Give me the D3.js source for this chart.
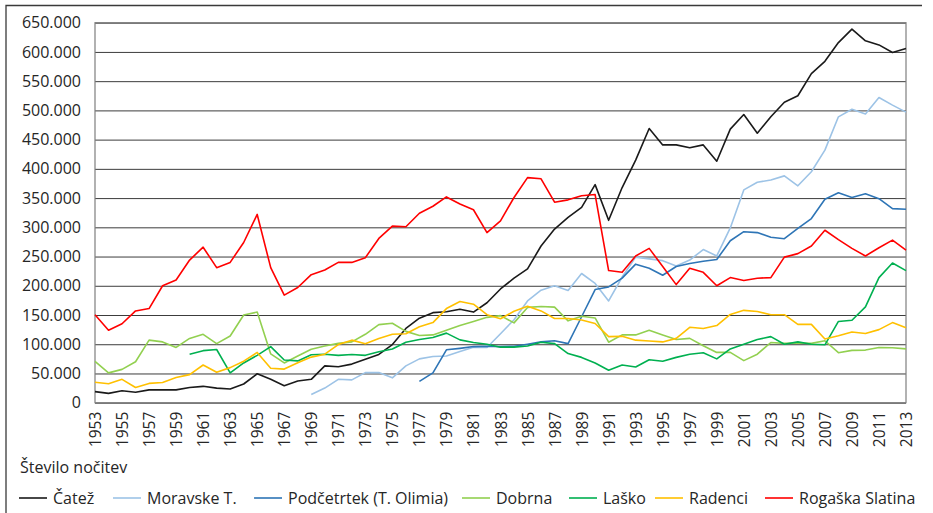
<!DOCTYPE html>
<html>
<head>
<meta charset="utf-8">
<script src="https://cdn.jsdelivr.net/npm/d3@7"></script>
<style>
  body { margin: 0; background: #fff; }
  svg text { font-family: "Open Sans", sans-serif; fill: #262626; }
</style>
</head>
<body>
<div id="chart"></div>
<script>
// nights per resort, in thousands (null = no data yet)
var years = d3.range(1953, 2014);
var tickYears = years.filter(function (y) { return y % 2 === 1; });
var yTicks = d3.range(0, 650001, 50000);
var UNIT = 1000;

var catez = [19, 16, 20.5, 18, 22, 22, 22, 26, 28, 25, 23.5, 32, 49.5, 40, 29, 37, 40, 63, 61.5, 66, 74.5, 82.5, 99.5, 127, 144.5, 154, 155.5, 160, 155, 171, 194.5, 213, 229, 268, 297, 317, 334, 373, 312, 368, 415, 469, 441, 441, 436, 441, 413, 468, 493, 461, 489, 514, 525, 563, 584, 616, 639, 619, 612, 599, 606];
var moravske = [null, null, null, null, null, null, null, null, null, null, null, null, null, null, null, null, 14, 25, 40, 39, 51.5, 51.5, 42.5, 63, 75, 79, 80, 87.5, 95, 94.5, 118, 142, 174, 192.5, 200, 192, 221, 204, 174, 215, 249, 246, 243, 234, 244, 262, 251, 299, 364, 377, 381, 388, 371, 395, 432, 489, 502, 494, 522, 509, 497];
var podcetrtek = [null, null, null, null, null, null, null, null, null, null, null, null, null, null, null, null, null, null, null, null, null, null, null, null, 36.5, 51, 90.5, 93, 96, 96.5, 96, 96.5, 100, 104, 106, 101, 147, 193.5, 198, 213, 237, 230, 218, 233, 238, 242, 245, 277, 292.5, 291, 283, 280.5, 298, 315, 348, 359, 351, 357.5, 349, 332, 331];
var dobrna = [70.5, 51, 57, 70, 107, 104, 94.5, 110, 117, 101, 114, 150, 155, 83.5, 68, 80, 91.5, 97, 101.5, 104, 117, 133.5, 136, 122, 115, 116, 124, 132, 139, 146, 149, 136.5, 163, 164.5, 163.5, 140, 148, 145, 103.5, 116, 116, 124, 116, 108, 110, 97.5, 86, 86, 72, 83, 103, 101.5, 102, 101.5, 106, 85.5, 89.5, 90, 94.5, 94, 92];
var lasko = [null, null, null, null, null, null, null, 83, 89, 91, 51, 68, 81, 96, 73, 71.5, 82, 83, 81, 82.5, 81, 87, 92, 103.5, 108, 111.5, 119, 107.5, 103, 100, 95, 95, 97, 103.5, 101, 84, 77.5, 68, 55.5, 64.5, 61, 73.5, 71, 77.5, 83, 85.5, 75, 92, 100, 108, 113, 100, 104, 100, 99, 139, 141, 164, 214, 239, 226];
var radenci = [35, 32.5, 40, 26, 33, 34.5, 43, 48, 64.5, 52, 60, 71, 86, 59, 57.5, 68.5, 78, 83, 99.5, 107, 101, 110, 117, 118, 130, 137, 161, 173, 168.5, 150.5, 143.5, 156.5, 165, 157, 144, 144, 141.5, 135.5, 113, 113.5, 107, 105.5, 104, 110, 129, 127, 132, 151, 158, 156, 150.5, 150.5, 134, 134, 109, 114.5, 121, 118.5, 125, 137, 128];
var rogaska = [150.5, 124, 135, 157, 161, 200, 210, 244, 266, 231, 240, 274, 322, 231, 184, 197, 219, 227, 240, 240, 248, 281, 302, 301, 324, 336, 352, 340, 330, 291, 311, 351, 385, 383, 343, 347, 354, 356, 226, 223, 251, 264, 233, 202, 230, 223, 200, 214, 209, 213, 214, 249, 255, 268, 295, 279, 264, 251, 265, 278, 261];

var seriesNames = ['Čatež', 'Moravske T.', 'Podčetrtek (T. Olimia)', 'Dobrna', 'Laško', 'Radenci', 'Rogaška Slatina'];
var seriesValues = [catez, moravske, podcetrtek, dobrna, lasko, radenci, rogaska];
var seriesColors = ['#1a1a1a', '#9dc3e6', '#2e75b6', '#92d050', '#00b050', '#ffc000', '#ff0000'];
var yTitle = 'Število nočitev';

var W = 933, H = 513;
var plotLeft = 95, plotRight = 906, plotTop = 22.7, plotBottom = 402.7;

var svg = d3.select('#chart').append('svg')
  .attr('width', W)
  .attr('height', H);

// outer frame (left and top edges are visible in the picture)
svg.append('path')
  .attr('d', 'M6,513 L6,5.5 L922,5.5')
  .attr('fill', 'none')
  .attr('stroke', '#3a3a3a')
  .attr('stroke-width', 1.3);

var x = d3.scalePoint().domain(years).range([plotLeft, plotRight]);
var y = d3.scaleLinear().domain([0, 650000]).range([plotBottom, plotTop]);

var fmt = d3.formatLocale({ decimal: ',', thousands: '.', grouping: [3], currency: ['', ' €'] }).format(',');

// gridlines
svg.append('g')
  .attr('transform', 'translate(' + plotLeft + ',0)')
  .call(d3.axisLeft(y).tickValues(yTicks).tickSize(-(plotRight - plotLeft)).tickFormat(''))
  .call(function (g) {
    g.select('.domain').remove();
    g.selectAll('line').attr('stroke', '#3c3c3c').attr('stroke-width', 1);
  });

// y labels
svg.append('g')
  .attr('transform', 'translate(' + plotLeft + ',0)')
  .call(d3.axisLeft(y).tickValues(yTicks).tickSize(0).tickPadding(14).tickFormat(fmt))
  .call(function (g) {
    g.select('.domain').remove();
    g.selectAll('text').attr('font-size', 16).attr('fill', '#262626');
  });

// plot border
svg.append('rect')
  .attr('x', plotLeft)
  .attr('y', plotTop)
  .attr('width', plotRight - plotLeft)
  .attr('height', plotBottom - plotTop)
  .attr('fill', 'none')
  .attr('stroke', '#7f7f7f')
  .attr('stroke-width', 1.2);

// x labels
svg.append('g')
  .attr('transform', 'translate(0,' + plotBottom + ')')
  .call(d3.axisBottom(x).tickValues(tickYears).tickSize(0).tickFormat(d3.format('d')))
  .call(function (g) {
    g.select('.domain').remove();
    g.selectAll('text')
      .attr('font-size', 15.5)
      .attr('fill', '#262626')
      .attr('text-anchor', 'end')
      .attr('dy', null)
      .attr('y', 0)
      .attr('transform', 'translate(5.5,9) rotate(-90)');
  });

var line = d3.line()
  .defined(function (d) { return d != null; })
  .x(function (d, i) { return x(years[i]); })
  .y(function (d) { return y(d * UNIT); });

var lines = svg.append('g');
seriesValues.forEach(function (vals, i) {
  lines.append('path')
    .attr('d', line(vals))
    .attr('fill', 'none')
    .attr('stroke', seriesColors[i])
    .attr('stroke-width', 1.6)
    .attr('stroke-linejoin', 'round');
});

// axis title under the labels
svg.append('text')
  .attr('x', 20)
  .attr('y', 473)
  .attr('font-size', 16)
  .text(yTitle);

// legend
var legendX = [19, 113, 254, 462, 569, 655, 765];
var legend = svg.append('g');
seriesNames.forEach(function (name, i) {
  var g = legend.append('g').attr('transform', 'translate(' + legendX[i] + ',498)');
  g.append('line')
    .attr('x1', 0).attr('x2', 28)
    .attr('y1', 0).attr('y2', 0)
    .attr('stroke', seriesColors[i])
    .attr('stroke-width', 1.6);
  g.append('text')
    .attr('x', 34)
    .attr('y', 6)
    .attr('font-size', 16)
    .text(name);
});
</script>
</body>
</html>
